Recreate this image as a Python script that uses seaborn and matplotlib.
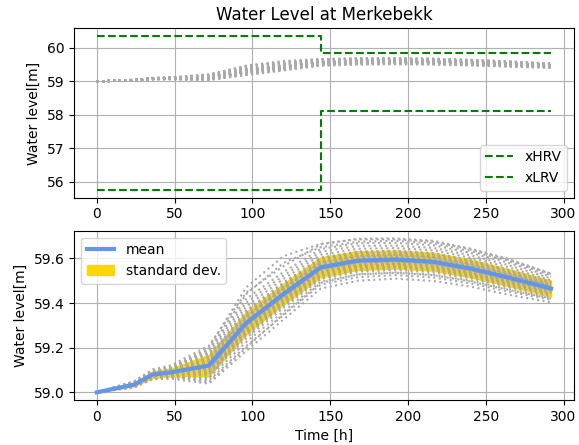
import numpy as np
import pandas as pd
import matplotlib
matplotlib.use("Agg")
import matplotlib.pyplot as plt
import matplotlib.patches as mpatches
import seaborn as sns

# ---- data ----
time_h = [0, 24, 36, 48, 72, 96, 120, 144, 168, 192, 216, 240, 264, 292]
mean_level = [59.000, 59.035, 59.080, 59.090, 59.120, 59.310, 59.440, 59.560,
              59.590, 59.595, 59.585, 59.555, 59.515, 59.465]
std_level = [0.000, 0.008, 0.015, 0.018, 0.048, 0.050, 0.047, 0.045,
             0.042, 0.040, 0.040, 0.040, 0.038, 0.036]

members = [
    [59.000, 59.021, 59.059, 59.061, 59.039, 59.185, 59.326, 59.465, 59.500, 59.509, 59.499, 59.474, 59.438, 59.403],
    [59.000, 59.023, 59.063, 59.067, 59.053, 59.207, 59.346, 59.483, 59.516, 59.525, 59.515, 59.488, 59.452, 59.415],
    [59.000, 59.025, 59.066, 59.071, 59.065, 59.225, 59.362, 59.496, 59.529, 59.537, 59.527, 59.500, 59.463, 59.423],
    [59.000, 59.027, 59.069, 59.074, 59.076, 59.242, 59.378, 59.508, 59.541, 59.548, 59.538, 59.511, 59.473, 59.431],
    [59.000, 59.029, 59.071, 59.077, 59.083, 59.253, 59.388, 59.517, 59.549, 59.556, 59.546, 59.518, 59.480, 59.437],
    [59.000, 59.030, 59.072, 59.080, 59.090, 59.264, 59.398, 59.526, 59.557, 59.564, 59.554, 59.525, 59.487, 59.443],
    [59.000, 59.031, 59.074, 59.082, 59.098, 59.276, 59.409, 59.534, 59.565, 59.572, 59.562, 59.533, 59.494, 59.448],
    [59.000, 59.032, 59.076, 59.085, 59.105, 59.287, 59.419, 59.543, 59.574, 59.579, 59.569, 59.540, 59.501, 59.454],
    [59.000, 59.034, 59.078, 59.087, 59.113, 59.299, 59.430, 59.551, 59.582, 59.587, 59.577, 59.548, 59.508, 59.459],
    [59.000, 59.035, 59.080, 59.090, 59.120, 59.310, 59.440, 59.560, 59.590, 59.595, 59.585, 59.555, 59.515, 59.465],
    [59.000, 59.036, 59.082, 59.093, 59.127, 59.321, 59.450, 59.569, 59.598, 59.603, 59.593, 59.562, 59.522, 59.471],
    [59.000, 59.038, 59.084, 59.095, 59.135, 59.333, 59.461, 59.577, 59.606, 59.611, 59.601, 59.570, 59.529, 59.476],
    [59.000, 59.039, 59.086, 59.098, 59.142, 59.344, 59.471, 59.586, 59.615, 59.618, 59.608, 59.577, 59.536, 59.482],
    [59.000, 59.040, 59.088, 59.100, 59.150, 59.356, 59.482, 59.594, 59.623, 59.626, 59.616, 59.585, 59.543, 59.487],
    [59.000, 59.042, 59.090, 59.103, 59.157, 59.367, 59.492, 59.603, 59.631, 59.634, 59.624, 59.592, 59.550, 59.493],
    [59.000, 59.043, 59.092, 59.107, 59.168, 59.384, 59.508, 59.616, 59.643, 59.646, 59.636, 59.603, 59.561, 59.501],
    [59.000, 59.045, 59.095, 59.111, 59.179, 59.401, 59.523, 59.629, 59.656, 59.657, 59.647, 59.614, 59.571, 59.510],
    [59.000, 59.047, 59.098, 59.115, 59.190, 59.418, 59.539, 59.642, 59.668, 59.669, 59.659, 59.625, 59.582, 59.518],
    [59.000, 59.051, 59.103, 59.121, 59.209, 59.447, 59.565, 59.663, 59.688, 59.689, 59.679, 59.644, 59.599, 59.532],
    [59.000, 59.045, 59.095, 59.110, 59.200, 59.470, 59.610, 59.665, 59.685, 59.685, 59.675, 59.640, 59.595, 59.530],
    [59.000, 59.040, 59.090, 59.105, 59.190, 59.440, 59.580, 59.650, 59.675, 59.678, 59.668, 59.633, 59.590, 59.525],
    [59.000, 59.028, 59.070, 59.072, 59.045, 59.200, 59.350, 59.490, 59.528, 59.535, 59.525, 59.497, 59.460, 59.420],
    [59.000, 59.041, 59.089, 59.102, 59.153, 59.282, 59.414, 59.539, 59.570, 59.576, 59.566, 59.537, 59.498, 59.451],
    [59.000, 59.029, 59.071, 59.078, 59.087, 59.339, 59.466, 59.582, 59.611, 59.615, 59.605, 59.574, 59.533, 59.479],
    [59.000, 59.033, 59.077, 59.086, 59.109, 59.293, 59.424, 59.547, 59.578, 59.583, 59.573, 59.544, 59.505, 59.457],
    [59.000, 59.034, 59.079, 59.089, 59.116, 59.304, 59.435, 59.556, 59.586, 59.591, 59.581, 59.551, 59.512, 59.462],
    [59.000, 59.036, 59.081, 59.091, 59.124, 59.316, 59.445, 59.564, 59.594, 59.599, 59.589, 59.559, 59.519, 59.468],
    [59.000, 59.037, 59.083, 59.094, 59.131, 59.327, 59.456, 59.573, 59.602, 59.607, 59.597, 59.566, 59.526, 59.473],
    [59.000, 59.038, 59.085, 59.097, 59.139, 59.339, 59.466, 59.582, 59.611, 59.615, 59.605, 59.574, 59.533, 59.479],
    [59.000, 59.032, 59.075, 59.084, 59.102, 59.282, 59.414, 59.539, 59.570, 59.576, 59.566, 59.537, 59.498, 59.451],
    [59.000, 59.040, 59.087, 59.099, 59.146, 59.350, 59.476, 59.590, 59.619, 59.622, 59.612, 59.581, 59.540, 59.485],
    [59.000, 59.030, 59.073, 59.081, 59.094, 59.270, 59.404, 59.530, 59.561, 59.568, 59.558, 59.529, 59.491, 59.445],
    [59.000, 59.045, 59.094, 59.110, 59.176, 59.321, 59.450, 59.569, 59.598, 59.603, 59.593, 59.562, 59.522, 59.471],
    [59.000, 59.025, 59.065, 59.069, 59.061, 59.299, 59.430, 59.551, 59.582, 59.587, 59.577, 59.548, 59.508, 59.459],
    [59.000, 59.029, 59.071, 59.078, 59.085, 59.256, 59.391, 59.519, 59.551, 59.558, 59.548, 59.520, 59.482, 59.438],
    [59.000, 59.030, 59.072, 59.079, 59.089, 59.262, 59.396, 59.523, 59.555, 59.562, 59.552, 59.524, 59.485, 59.441],
    [59.000, 59.030, 59.073, 59.080, 59.092, 59.267, 59.401, 59.528, 59.559, 59.566, 59.556, 59.527, 59.489, 59.444],
    [59.000, 59.031, 59.074, 59.082, 59.096, 59.273, 59.406, 59.532, 59.563, 59.570, 59.560, 59.531, 59.492, 59.447],
    [59.000, 59.031, 59.075, 59.083, 59.100, 59.279, 59.411, 59.536, 59.567, 59.574, 59.564, 59.535, 59.496, 59.450],
    [59.000, 59.032, 59.076, 59.084, 59.103, 59.284, 59.417, 59.541, 59.572, 59.577, 59.567, 59.538, 59.499, 59.452],
    [59.000, 59.033, 59.077, 59.085, 59.107, 59.290, 59.422, 59.545, 59.576, 59.581, 59.571, 59.542, 59.503, 59.455],
    [59.000, 59.033, 59.078, 59.087, 59.111, 59.296, 59.427, 59.549, 59.580, 59.585, 59.575, 59.546, 59.506, 59.458],
    [59.000, 59.034, 59.079, 59.088, 59.114, 59.301, 59.432, 59.554, 59.584, 59.589, 59.579, 59.549, 59.510, 59.461],
    [59.000, 59.035, 59.080, 59.089, 59.118, 59.307, 59.437, 59.558, 59.588, 59.593, 59.583, 59.553, 59.513, 59.464],
    [59.000, 59.035, 59.080, 59.091, 59.122, 59.313, 59.443, 59.562, 59.592, 59.597, 59.587, 59.557, 59.517, 59.466],
    [59.000, 59.037, 59.082, 59.093, 59.129, 59.324, 59.453, 59.571, 59.600, 59.605, 59.595, 59.564, 59.524, 59.472],
    [59.000, 59.037, 59.083, 59.095, 59.133, 59.330, 59.458, 59.575, 59.604, 59.609, 59.599, 59.568, 59.527, 59.475],
    [59.000, 59.039, 59.085, 59.097, 59.140, 59.341, 59.469, 59.584, 59.613, 59.616, 59.606, 59.575, 59.534, 59.480],
    [59.000, 59.040, 59.087, 59.100, 59.148, 59.353, 59.479, 59.592, 59.621, 59.624, 59.614, 59.583, 59.541, 59.486],
    [59.000, 59.041, 59.089, 59.102, 59.155, 59.364, 59.489, 59.601, 59.629, 59.632, 59.622, 59.590, 59.548, 59.492],
]

hrv_time = [0, 144, 292]
hrv_level = [60.35, 59.85, 59.85]
lrv_time = [0, 144, 292]
lrv_level = [55.75, 58.10, 58.10]

# ---- long-form table ----
rows = []
for m, vals in enumerate(members):
    for t, v in zip(time_h, vals):
        rows.append({"member": m, "time": t, "level": v})
ens = pd.DataFrame(rows)

plt.rcParams['font.family'] = ['DejaVu Sans']
fig, (ax1, ax2) = plt.subplots(2, 1, figsize=(5.79, 4.45), dpi=100)
fig.subplots_adjust(left=0.128, right=0.991, top=0.936, bottom=0.101, hspace=0.195)

GREY = "darkgrey"

# ---- top panel ----
sns.lineplot(data=ens, x="time", y="level", units="member", estimator=None,
             color=GREY, linestyle=":", lw=1.5, ax=ax1, legend=False)
sns.lineplot(x=hrv_time, y=hrv_level, drawstyle="steps-post", color="green",
             linestyle="--", lw=1.5, ax=ax1, label="xHRV")
sns.lineplot(x=lrv_time, y=lrv_level, drawstyle="steps-post", color="green",
             linestyle="--", lw=1.5, ax=ax1, label="xLRV")
ax1.set_title("Water Level at Merkebekk", fontsize=12)
ax1.set_ylabel("Water level[m]")
ax1.set_xlabel("")
ax1.grid(True, color="#b0b0b0", lw=0.8)
ax1.set_axisbelow(True)
h, l = ax1.get_legend_handles_labels()
ax1.legend(h, l, loc="lower right")

# ---- bottom panel ----
lo = [m - s for m, s in zip(mean_level, std_level)]
hi = [m + s for m, s in zip(mean_level, std_level)]
ax2.fill_between(time_h, lo, hi, color="gold", zorder=1)
sns.lineplot(data=ens, x="time", y="level", units="member", estimator=None,
             color=GREY, linestyle=":", lw=1.5, ax=ax2, legend=False, zorder=2)
sns.lineplot(x=time_h, y=mean_level, color="cornflowerblue", lw=3, ax=ax2,
             zorder=3)
ax2.set_ylabel("Water level[m]")
ax2.set_xlabel("Time [h]")
ax2.grid(True, color="#b0b0b0", lw=0.8)
ax2.set_axisbelow(True)
ax2.set_yticks([59.0, 59.2, 59.4, 59.6])
mean_handle = matplotlib.lines.Line2D([], [], color="cornflowerblue", lw=3)
std_handle = mpatches.Patch(color="gold")
ax2.legend([mean_handle, std_handle], ["mean", "standard dev."], loc="upper left")

for ax in (ax1, ax2):
    ax.set_xticks([0, 50, 100, 150, 200, 250, 300])

fig.savefig("out.png", dpi=100)
